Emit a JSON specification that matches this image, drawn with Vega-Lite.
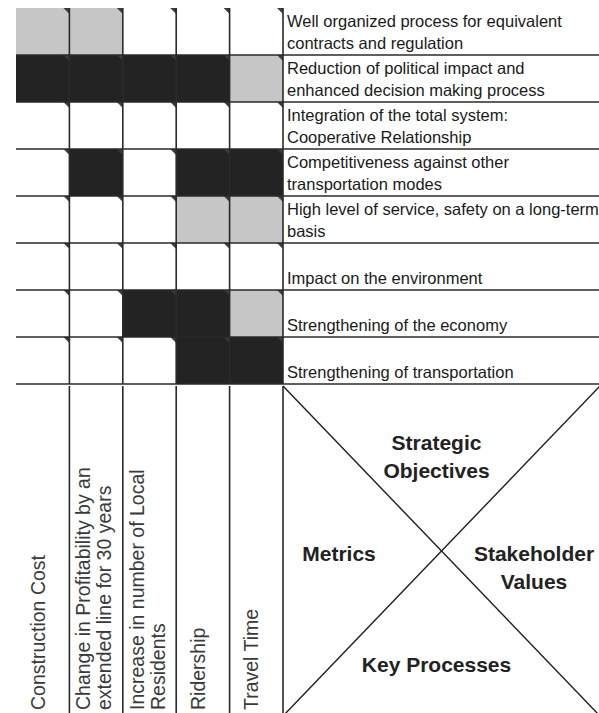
{
  "$schema": "https://vega.github.io/schema/vega-lite/v6.json",
  "padding": {"left": 15, "top": 7, "right": 0, "bottom": 0},
  "background": "white",
  "config": {"view": {"stroke": null}},
  "datasets": {
    "metrics": [
      {"metric": "Construction Cost", "label": "Construction Cost"},
      {"metric": "Change in Profitability", "label": "Change in Profitability by an\nextended line for 30 years"},
      {"metric": "Increase in Local Residents", "label": "Increase in number of Local\nResidents"},
      {"metric": "Ridership", "label": "Ridership"},
      {"metric": "Travel Time", "label": "Travel Time"}
    ],
    "objectives": [
      {"objective": "Contracts and regulation", "label": "Well organized process for equivalent\ncontracts and regulation"},
      {"objective": "Political impact", "label": "Reduction of political impact and\nenhanced decision making process"},
      {"objective": "Integration", "label": "Integration of the total system:\nCooperative Relationship"},
      {"objective": "Competitiveness", "label": "Competitiveness against other\ntransportation modes"},
      {"objective": "Service and safety", "label": "High level of service, safety on a long-term\nbasis"},
      {"objective": "Environment", "label": "Impact on the environment"},
      {"objective": "Economy", "label": "Strengthening of the economy"},
      {"objective": "Transportation", "label": "Strengthening of transportation"}
    ],
    "cells": [
      {"objective": "Contracts and regulation", "metric": "Construction Cost", "relation": "weak"},
      {"objective": "Contracts and regulation", "metric": "Change in Profitability", "relation": "weak"},
      {"objective": "Contracts and regulation", "metric": "Increase in Local Residents", "relation": "none"},
      {"objective": "Contracts and regulation", "metric": "Ridership", "relation": "none"},
      {"objective": "Contracts and regulation", "metric": "Travel Time", "relation": "none"},
      {"objective": "Political impact", "metric": "Construction Cost", "relation": "strong"},
      {"objective": "Political impact", "metric": "Change in Profitability", "relation": "strong"},
      {"objective": "Political impact", "metric": "Increase in Local Residents", "relation": "strong"},
      {"objective": "Political impact", "metric": "Ridership", "relation": "strong"},
      {"objective": "Political impact", "metric": "Travel Time", "relation": "weak"},
      {"objective": "Integration", "metric": "Construction Cost", "relation": "none"},
      {"objective": "Integration", "metric": "Change in Profitability", "relation": "none"},
      {"objective": "Integration", "metric": "Increase in Local Residents", "relation": "none"},
      {"objective": "Integration", "metric": "Ridership", "relation": "none"},
      {"objective": "Integration", "metric": "Travel Time", "relation": "none"},
      {"objective": "Competitiveness", "metric": "Construction Cost", "relation": "none"},
      {"objective": "Competitiveness", "metric": "Change in Profitability", "relation": "strong"},
      {"objective": "Competitiveness", "metric": "Increase in Local Residents", "relation": "none"},
      {"objective": "Competitiveness", "metric": "Ridership", "relation": "strong"},
      {"objective": "Competitiveness", "metric": "Travel Time", "relation": "strong"},
      {"objective": "Service and safety", "metric": "Construction Cost", "relation": "none"},
      {"objective": "Service and safety", "metric": "Change in Profitability", "relation": "none"},
      {"objective": "Service and safety", "metric": "Increase in Local Residents", "relation": "none"},
      {"objective": "Service and safety", "metric": "Ridership", "relation": "weak"},
      {"objective": "Service and safety", "metric": "Travel Time", "relation": "weak"},
      {"objective": "Environment", "metric": "Construction Cost", "relation": "none"},
      {"objective": "Environment", "metric": "Change in Profitability", "relation": "none"},
      {"objective": "Environment", "metric": "Increase in Local Residents", "relation": "none"},
      {"objective": "Environment", "metric": "Ridership", "relation": "none"},
      {"objective": "Environment", "metric": "Travel Time", "relation": "none"},
      {"objective": "Economy", "metric": "Construction Cost", "relation": "none"},
      {"objective": "Economy", "metric": "Change in Profitability", "relation": "none"},
      {"objective": "Economy", "metric": "Increase in Local Residents", "relation": "strong"},
      {"objective": "Economy", "metric": "Ridership", "relation": "strong"},
      {"objective": "Economy", "metric": "Travel Time", "relation": "weak"},
      {"objective": "Transportation", "metric": "Construction Cost", "relation": "none"},
      {"objective": "Transportation", "metric": "Change in Profitability", "relation": "none"},
      {"objective": "Transportation", "metric": "Increase in Local Residents", "relation": "none"},
      {"objective": "Transportation", "metric": "Ridership", "relation": "strong"},
      {"objective": "Transportation", "metric": "Travel Time", "relation": "strong"}
    ],
    "quadrants": [
      {"label": "Strategic\nObjectives", "h": "center", "v": "top"},
      {"label": "Metrics", "h": "left", "v": "middle"},
      {"label": "Stakeholder\nValues", "h": "right", "v": "middle"},
      {"label": "Key Processes", "h": "center", "v": "bottom"}
    ]
  },
  "spacing": 0,
  "resolve": {"scale": {"x": "independent", "y": "independent"}},
  "vconcat": [
    {
      "spacing": 0,
      "bounds": "flush",
      "resolve": {"scale": {"x": "independent", "y": "independent"}},
      "hconcat": [
        {
          "width": 267,
          "height": 376,
          "layer": [
            {
              "data": {"name": "cells"},
              "mark": {"type": "rect"},
              "encoding": {
                "x": {"field": "metric", "type": "nominal", "axis": null,
                  "scale": {"domain": ["Construction Cost", "Change in Profitability", "Increase in Local Residents", "Ridership", "Travel Time"], "paddingInner": 0, "paddingOuter": 0}},
                "y": {"field": "objective", "type": "nominal", "axis": null,
                  "scale": {"domain": ["Contracts and regulation", "Political impact", "Integration", "Competitiveness", "Service and safety", "Environment", "Economy", "Transportation"], "paddingInner": 0, "paddingOuter": 0}},
                "fill": {"field": "relation", "type": "nominal", "legend": null,
                  "scale": {"domain": ["strong", "weak", "none"], "range": ["#232323", "#c6c6c6", "#ffffff"]}}
              }
            },
            {
              "data": {"name": "cells"},
              "mark": {"type": "point", "shape": "M -2 0 L 0 0 L 0 2 Z", "filled": true, "size": 36, "color": "#3c3c3c", "opacity": 1, "strokeWidth": 0},
              "encoding": {
                "x": {"field": "metric", "type": "nominal", "bandPosition": 1},
                "y": {"field": "objective", "type": "nominal", "bandPosition": 0}
              }
            },
            {
              "data": {"name": "metrics"},
              "mark": {"type": "rule", "color": "#2a2a2a", "strokeWidth": 1.6},
              "encoding": {"x": {"field": "metric", "type": "nominal", "bandPosition": 1}}
            },
            {
              "data": {"name": "objectives"},
              "mark": {"type": "rule", "color": "#2a2a2a", "strokeWidth": 1.6},
              "encoding": {"y": {"field": "objective", "type": "nominal", "bandPosition": 1}}
            }
          ]
        },
        {
          "width": 317,
          "height": 376,
          "data": {"name": "objectives"},
          "layer": [
            {
              "mark": {"type": "text", "align": "left", "baseline": "alphabetic", "dx": 4,
                "dy": {"expr": "indexof(datum.label, '\\n') >= 0 ? -28 : -6"},
                "lineBreak": "\n", "lineHeight": 22, "font": "Liberation Sans", "fontSize": 16.5, "color": "#1a1a1a", "clip": true},
              "encoding": {
                "y": {"field": "objective", "type": "nominal", "bandPosition": 1, "axis": null,
                  "scale": {"domain": ["Contracts and regulation", "Political impact", "Integration", "Competitiveness", "Service and safety", "Environment", "Economy", "Transportation"], "paddingInner": 0, "paddingOuter": 0}},
                "x": {"value": 0},
                "text": {"field": "label"}
              }
            },
            {
              "mark": {"type": "rule", "color": "#2a2a2a", "strokeWidth": 1.6},
              "encoding": {"y": {"field": "objective", "type": "nominal", "bandPosition": 1}}
            }
          ]
        }
      ]
    },
    {
      "spacing": 0,
      "bounds": "flush",
      "resolve": {"scale": {"x": "independent", "y": "independent"}},
      "hconcat": [
        {
          "width": 267,
          "height": 330,
          "data": {"name": "metrics"},
          "layer": [
            {
              "mark": {"type": "text", "angle": 270, "align": "left", "baseline": "middle", "y": "height", "dx": 6,
                "dy": {"expr": "indexof(datum.label, '\\n') >= 0 ? -12 : -4"},
                "lineBreak": "\n", "lineHeight": 21, "font": "Liberation Sans", "fontSize": 19.5, "color": "#3a3a3a"},
              "encoding": {
                "x": {"field": "metric", "type": "nominal", "axis": null,
                  "scale": {"domain": ["Construction Cost", "Change in Profitability", "Increase in Local Residents", "Ridership", "Travel Time"], "paddingInner": 0, "paddingOuter": 0}},
                "text": {"field": "label"}
              }
            },
            {
              "mark": {"type": "rule", "color": "#2a2a2a", "strokeWidth": 1.6},
              "encoding": {"x": {"field": "metric", "type": "nominal", "bandPosition": 1}}
            }
          ]
        },
        {
          "width": 317,
          "height": 330,
          "resolve": {"scale": {"x": "independent", "y": "independent"}},
          "layer": [
            {
              "data": {"values": [{}]},
              "mark": {"type": "rule", "color": "#1e1e1e", "strokeWidth": 1.4},
              "encoding": {
                "x": {"datum": 0, "type": "quantitative", "axis": null, "scale": {"domain": [0, 1], "nice": false}},
                "y": {"datum": 1, "type": "quantitative", "axis": null, "scale": {"domain": [0, 1], "nice": false}},
                "x2": {"datum": 1},
                "y2": {"datum": 0}
              }
            },
            {
              "data": {"values": [{}]},
              "mark": {"type": "rule", "color": "#1e1e1e", "strokeWidth": 1.4},
              "encoding": {
                "x": {"datum": 0, "type": "quantitative", "axis": null, "scale": {"domain": [0, 1], "nice": false}},
                "y": {"datum": 0, "type": "quantitative", "axis": null, "scale": {"domain": [0, 1], "nice": false}},
                "x2": {"datum": 1},
                "y2": {"datum": 1}
              }
            },
            {
              "data": {"name": "quadrants"},
              "mark": {"type": "text", "align": "center", "baseline": "middle", "lineBreak": "\n", "lineHeight": 28, "font": "Liberation Sans", "fontWeight": "bold", "fontSize": 21, "color": "#222222"},
              "encoding": {
                "x": {"field": "h", "type": "ordinal", "axis": null,
                  "scale": {"type": "point", "domain": ["left", "center", "right"], "range": [56, 251], "padding": 0}},
                "y": {"field": "v", "type": "ordinal", "axis": null,
                  "scale": {"type": "point", "domain": ["top", "middle", "bottom"], "range": [58, 280], "padding": 0}},
                "text": {"field": "label"}
              }
            }
          ]
        }
      ]
    }
  ]
}
